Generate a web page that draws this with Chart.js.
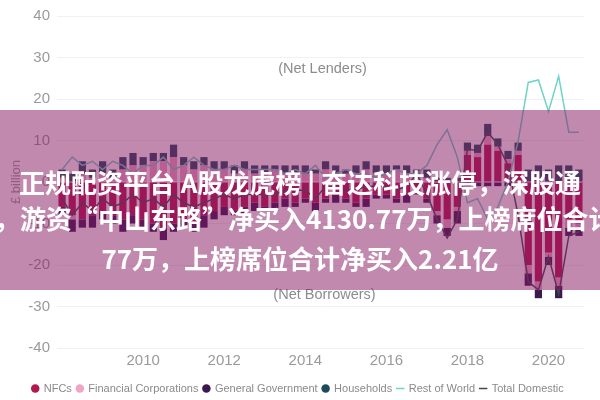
<!DOCTYPE html>
<html>
<head>
<meta charset="utf-8">
<script src="https://cdn.jsdelivr.net/npm/chart.js@4.4.1/dist/chart.umd.min.js"></script>
<style>
  body { margin: 0; background: #fff; }
  #wrap { position: relative; width: 600px; height: 400px; overflow: hidden; }
  #banner { position: absolute; left: 0; top: 110px; width: 600px; height: 180px;
    background: rgba(136, 24, 98, 0.51); overflow: hidden; }
  .line { position: absolute; white-space: nowrap; color: #fff; font-weight: bold;
    font-family: "Noto Sans CJK SC", sans-serif; font-size: 26px; line-height: 36px; }
</style>
</head>
<body>
<div id="wrap">
  <canvas id="myChart" width="600" height="400"></canvas>
  <div id="banner">
    <div class="line" style="left:0;width:600px;text-align:center;top:54px;">正规配资平台 A股龙虎榜 | 奋达科技涨停，深股通</div>
    <div class="line" style="left:-6px;top:90px;">，游资“中山东路”净买入4130.77万，上榜席位合计</div>
    <div class="line" style="left:0;width:600px;text-align:center;top:130px;">77万，上榜席位合计净买入2.21亿</div>
  </div>
</div>
<script>
"use strict";

// quarters, 2008 Q1 to 2020 Q4
const quarters = [
  "2008Q1", "2008Q2", "2008Q3", "2008Q4", "2009Q1", "2009Q2", "2009Q3", "2009Q4",
  "2010Q1", "2010Q2", "2010Q3", "2010Q4", "2011Q1", "2011Q2", "2011Q3", "2011Q4",
  "2012Q1", "2012Q2", "2012Q3", "2012Q4", "2013Q1", "2013Q2", "2013Q3", "2013Q4",
  "2014Q1", "2014Q2", "2014Q3", "2014Q4", "2015Q1", "2015Q2", "2015Q3", "2015Q4",
  "2016Q1", "2016Q2", "2016Q3", "2016Q4", "2017Q1", "2017Q2", "2017Q3", "2017Q4",
  "2018Q1", "2018Q2", "2018Q3", "2018Q4", "2019Q1", "2019Q2", "2019Q3", "2019Q4",
  "2020Q1", "2020Q2", "2020Q3", "2020Q4"
];
// years shown on the x axis
const tickYears = ["2010", "2012", "2014", "2016", "2018", "2020"];
const yTicks = [-40, -30, -20, -10, 0, 10, 20, 30, 40];

// £ billion
const nfcs = [
  -6, -8, -9, -8, -7, -8, -9, -8,
  -9, -10, -11, -10, -9, -10, -8, -7,
  -6, -7, -6, -5, -6, -5, -4, -5,
  -4, -5, -4, -3, -4, -5, -4, -3,
  -3, -4, -3, -2, -4, -7, -9, -6,
  6.5, 6, 9, 7.5, 4.5, 6.5, -20, -24,
  -17, -23, -9, -10
];
const financialCorps = [
  1, -1, 2, 1, 2, 1, 3, 4,
  4, 5, 5, 6, 4, 3, 4, 3,
  3, 2, 3, 2, 2, 3, 2, 2,
  2, 2, 3, 2, 2, 2, 3, 2,
  2, 3, 2, 2, 1, -1, -2, -1,
  1, 1, 2, 1, 1, 1, -2, -2,
  -1, -2, -2, -1
];
const generalGov = [
  -2, -3, -2, -3, -2, -2, -3, -2,
  -2, -2, -3, -2, -2, -2, -3, -2,
  -2, -1, -2, -2, -1, -2, -2, -1,
  -1, -2, -1, -2, -1, -1, -2, -1,
  -1, -1, -2, -1, -1, -2, -2, -3,
  -1, -1, -1, -1, -1, -1, -3, -2,
  -2, -3, -2, -2
];
const households = [
  2, 2, 3, 2, 3, 2, 3, 3,
  2, 2, 2, 3, 2, 2, 2, 2,
  2, 2, 2, 2, 2, 1, 2, 2,
  2, 1, 2, 2, 1, 2, 2, 2,
  2, 1, 2, 1, 2, 1, 1, 1,
  2, 2, 3, 2, 2, 2, 3, 4,
  3, 4, 4, 3
];
const restOfWorld = [
  3, 6, 4, 5, 3, 5, 4, 2,
  4, 4, 6, 3, 4, 6, 4, 3,
  3, 4, 3, 3, 3, 3, 2, 3,
  2, 4, 1, 2, 3, 2, 2, 1,
  2, 3, 2, 2, 4, 9, 12.6, 6,
  -5, -4, -9, -6, 0, 9.8, 24, 24.6,
  17, 25.5, 12, 12
];
const totalDomestic = [
  -4, -8, -5, -7, -4, -6, -5, -3,
  -5, -4, -6, -3, -5, -6, -5, -4,
  -3, -4, -3, -3, -3, -3, -2, -2,
  -2, -4, -1, -1, -2, -2, -1, -1,
  -1, -2, -1, 0, -3, -9, -13.5, -9,
  8, 7.5, 12, 9, 4, -8, -24, -26,
  -18, -27, -13, -12
];

const family = "'Liberation Sans', Arial, sans-serif";
const axisFont = { family: family, size: 15 };

// "(Net Lenders)" / "(Net Borrowers)" notes inside the plot
const notesPlugin = {
  id: "notes",
  afterLayout(chart) {
    // legend sits a little right of centre and lower in the original
    chart.legend.left += 6;
    chart.legend.right += 6;
    chart.legend.top += 4;
    chart.legend.bottom += 4;
  },
  afterDatasetsDraw(chart) {
    const ctx = chart.ctx;
    const area = chart.chartArea;
    const y = chart.scales.y;
    const cx = (area.left + area.right) / 2;
    ctx.save();
    ctx.font = "14.5px " + family;
    ctx.fillStyle = "#8c8c8c";
    ctx.textAlign = "center";
    ctx.textBaseline = "middle";
    ctx.fillText("(Net Lenders)", cx + 2, y.getPixelForValue(27.3));
    ctx.fillText("(Net Borrowers)", cx + 4, y.getPixelForValue(-27.3));
    ctx.restore();
  }
};

const data = {
  labels: quarters,
  datasets: [
    { type: "line", label: "Rest of World", data: restOfWorld, borderColor: "#6fd3c7",
      backgroundColor: "#6fd3c7", borderWidth: 1.5, pointRadius: 0, tension: 0,
      pointStyle: "line", order: 0 },
    { type: "line", label: "Total Domestic", data: totalDomestic, borderColor: "#3e4a52",
      backgroundColor: "#3e4a52", borderWidth: 1.5, pointRadius: 0, tension: 0,
      pointStyle: "line", order: 0 },
    { type: "bar", label: "NFCs", data: nfcs, backgroundColor: "#b3174f", pointStyle: "circle", order: 1 },
    { type: "bar", label: "Financial Corporations", data: financialCorps, backgroundColor: "#eda6c6", pointStyle: "circle", order: 1 },
    { type: "bar", label: "General Government", data: generalGov, backgroundColor: "#3a1850", pointStyle: "circle", order: 1 },
    { type: "bar", label: "Households", data: households, backgroundColor: "#1d4b5c", pointStyle: "circle", order: 1 }
  ]
};

const config = {
  type: "bar",
  data: data,
  plugins: [notesPlugin],
  options: {
    responsive: false,
    animation: false,
    layout: { padding: { left: 0, right: 16, top: 3, bottom: 0 } },
    datasets: { bar: { categoryPercentage: 0.75, barPercentage: 0.95 } },
    scales: {
      x: {
        stacked: true,
        grid: { display: false, drawTicks: false },
        border: { display: false },
        ticks: {
          autoSkip: false, maxRotation: 0, color: "#9a9a9a", font: axisFont, padding: 4,
          callback: function (value) {
            const q = quarters[value];
            const yr = q.slice(0, 4);
            return (q.endsWith("Q1") && tickYears.includes(yr)) ? yr : "";
          }
        }
      },
      y: {
        stacked: true,
        min: yTicks[0],
        max: yTicks[yTicks.length - 1],
        afterBuildTicks: function (axis) {
          axis.ticks = yTicks.map(v => ({ value: v }));
        },
        afterFit: function (axis) { axis.width = 57; },
        grid: { color: "#f1f1f1", drawTicks: false },
        border: { display: false },
        ticks: { color: "#9a9a9a", font: axisFont, padding: 7 },
        title: { display: true, text: "£ billion", color: "#a0a0a0",
          font: { family: family, size: 13 },
          padding: { top: 9, bottom: 0 } }
      }
    },
    plugins: {
      legend: {
        position: "bottom",
        labels: {
          usePointStyle: true, boxWidth: 6, boxHeight: 6, padding: 5, color: "#8a8a8a",
          font: { family: family, size: 11 },
          sort: function (a, b) {
            const order = ["NFCs", "Financial Corporations", "General Government", "Households", "Rest of World", "Total Domestic"];
            return order.indexOf(a.text) - order.indexOf(b.text);
          }
        }
      },
      tooltip: { enabled: false }
    }
  }
};

const myChart = new Chart(document.getElementById("myChart"), config);
</script>
</body>
</html>
